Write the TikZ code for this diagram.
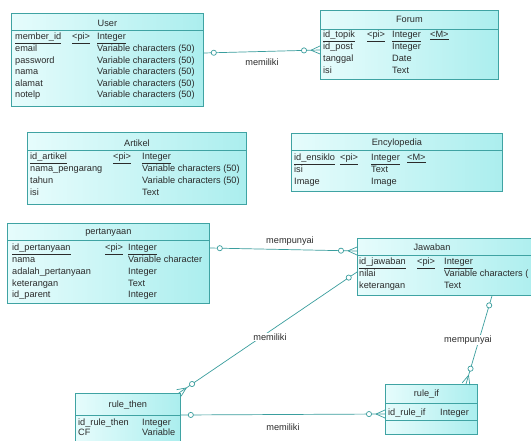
\documentclass[tikz,border=0pt]{standalone}
\usepackage{fontspec}
\setmainfont{Liberation Sans}
\usetikzlibrary{calc}
\definecolor{ErdEdge}{HTML}{3FA3A3}
\definecolor{ErdLight}{HTML}{E6FCFC}
\definecolor{ErdDeep}{HTML}{ABEEEE}
\definecolor{ErdInk}{HTML}{2B2B2B}
\definecolor{ErdLink}{HTML}{3A9E9E}
\tikzset{
  every node/.style={font=\fontsize{9.2}{10}\selectfont, text=ErdInk},
  erdbox/.style={draw=ErdEdge, line width=0.8pt, left color=ErdLight, right color=ErdDeep, anchor=north west, inner sep=0pt},
  erdrule/.style={draw=ErdEdge, line width=0.7pt},
  field/.style={anchor=base west, inner sep=0pt},
  link/.style={draw=ErdLink, line width=0.7pt},
  rellabel/.style={fill=white, inner sep=1pt},
}
% one end (#1) and many end (#2) of a relation
\newcommand{\erlink}[2]{%
  \draw[link] (#1) -- (#2);
  \draw[link, fill=white] ($(#1)!10pt!(#2)$) circle (2.6pt);
  \draw[link, fill=white] ($(#2)!16pt!(#1)$) circle (2.6pt);
  \draw[link] ($(#2)!9pt!(#1)$) -- ($(#2)!4pt!90:(#1)$)
              ($(#2)!9pt!(#1)$) -- ($(#2)!4pt!-90:(#1)$);
}

\begin{document}
\begin{tikzpicture}[x=1pt,y=-1pt]
  \fill[white] (0,0) rectangle (531,441);
  \useasboundingbox (0,0) rectangle (531,441);

  % User
  \node[erdbox, minimum width=192pt, minimum height=93pt] (user) at (11,13) {};
  \node (user-t) at ($(user.north)+(0,10)$) {User};
  \draw[erdrule] ($(user.north west)+(0,17)$) -- ($(user.north east)+(0,17)$);
  \node[field] (user-k) at (15,40) {\underline{member\_id}};
  \node[field] (user-kp) at (72,40) {\underline{<pi>}};
  \node[field] (user-kt) at (97,40) {\underline{Integer}};
  \foreach \f/\t [count=\i] in {email/Variable characters (50), password/Variable characters (50),
      nama/Variable characters (50), alamat/Variable characters (50), notelp/Variable characters (50)}{
    \node[field] (user-f\i) at (15,{40+11.6*\i}) {\f};
    \node[field] (user-y\i) at (97,{40+11.6*\i}) {\t};
  }

  % Forum
  \node[erdbox, minimum width=178pt, minimum height=69pt] (forum) at (320,10) {};
  \node (forum-t) at ($(forum.north)+(0,9)$) {Forum};
  \draw[erdrule] ($(forum.north west)+(0,19)$) -- ($(forum.north east)+(0,19)$);
  \node[field] (forum-k) at (323,38) {\underline{id\_topik}};
  \node[field] (forum-kp) at (367,38) {\underline{<pi>}};
  \node[field] (forum-kt) at (392,38) {\underline{Integer}};
  \node[field] (forum-km) at (430,38) {\underline{<M>}};
  \foreach \f/\t [count=\i] in {id\_post/Integer, tanggal/Date, isi/Text}{
    \node[field] (forum-f\i) at (323,{38+12*\i}) {\f};
    \node[field] (forum-y\i) at (392,{38+12*\i}) {\t};
  }

  % Artikel
  \node[erdbox, minimum width=219pt, minimum height=72pt] (artikel) at (27,132) {};
  \node (artikel-t) at ($(artikel.north)+(0,11)$) {Artikel};
  \draw[erdrule] ($(artikel.north west)+(0,18)$) -- ($(artikel.north east)+(0,18)$);
  \node[field] (artikel-k) at (30,160) {\underline{id\_artikel}};
  \node[field] (artikel-kp) at (113,160) {\underline{<pi>}};
  \node[field] (artikel-kt) at (142,160) {\underline{Integer}};
  \foreach \f/\t [count=\i] in {nama\_pengarang/Variable characters (50),
      tahun/Variable characters (50), isi/Text}{
    \node[field] (artikel-f\i) at (30,{160+12*\i}) {\f};
    \node[field] (artikel-y\i) at (142,{160+12*\i}) {\t};
  }

  % Encylopedia
  \node[erdbox, minimum width=211pt, minimum height=58pt] (ency) at (291,133) {};
  \node (ency-t) at ($(ency.north)+(0,10)$) {Encylopedia};
  \draw[erdrule] ($(ency.north west)+(0,17)$) -- ($(ency.north east)+(0,17)$);
  \node[field] (ency-k) at (294,161) {\underline{id\_ensiklo}};
  \node[field] (ency-kp) at (340,161) {\underline{<pi>}};
  \node[field] (ency-kt) at (371,161) {\underline{Integer}};
  \node[field] (ency-km) at (407,161) {\underline{<M>}};
  \foreach \f/\t [count=\i] in {isi/Text, Image/Image}{
    \node[field] (ency-f\i) at (294,{161+12*\i}) {\f};
    \node[field] (ency-y\i) at (371,{161+12*\i}) {\t};
  }

  % pertanyaan
  \node[erdbox, minimum width=202pt, minimum height=80pt] (tanya) at (7,223) {};
  \node (tanya-t) at ($(tanya.north)+(0,9)$) {pertanyaan};
  \draw[erdrule] ($(tanya.north west)+(0,17)$) -- ($(tanya.north east)+(0,17)$);
  \node[field] (tanya-k) at (12,251) {\underline{id\_pertanyaan}};
  \node[field] (tanya-kp) at (105,251) {\underline{<pi>}};
  \node[field] (tanya-kt) at (128,251) {\underline{Integer}};
  \foreach \f/\t [count=\i] in {nama/Variable character, adalah\_pertanyaan/Integer,
      keterangan/Text, id\_parent/Integer}{
    \node[field] (tanya-f\i) at (12,{251+11.7*\i}) {\f};
    \node[field] (tanya-y\i) at (128,{251+11.7*\i}) {\t};
  }

  % Jawaban
  \node[erdbox, minimum width=185pt, minimum height=57pt] (jawab) at (357,238) {};
  \node (jawab-t) at (432,247) {Jawaban};
  \draw[erdrule] ($(jawab.north west)+(0,17)$) -- ($(jawab.north east)+(0,17)$);
  \node[field] (jawab-k) at (359,265) {\underline{id\_jawaban}};
  \node[field] (jawab-kp) at (417,265) {\underline{<pi>}};
  \node[field] (jawab-kt) at (444,265) {\underline{Integer}};
  \foreach \f/\t [count=\i] in {nilai/Variable characters (, keterangan/Text}{
    \node[field] (jawab-f\i) at (359,{265+12*\i}) {\f};
    \node[field] (jawab-y\i) at (444,{265+12*\i}) {\t};
  }

  % rule_then
  \node[erdbox, minimum width=105pt, minimum height=60pt] (rthen) at (75,393) {};
  \node (rthen-t) at ($(rthen.north)+(0,12)$) {rule\_then};
  \draw[erdrule] ($(rthen.north west)+(0,22)$) -- ($(rthen.north east)+(0,22)$);
  \foreach \f/\t [count=\i from 0] in {id\_rule\_then/Integer, CF/Variable}{
    \node[field] (rthen-f\i) at (78,{425+10.5*\i}) {\f};
    \node[field] (rthen-y\i) at (142,{425+10.5*\i}) {\t};
  }

  % rule_if
  \node[erdbox, minimum width=92pt, minimum height=50pt] (rif) at (385,384) {};
  \node (rif-t) at ($(rif.north)+(-5,10)$) {rule\_if};
  \draw[erdrule] ($(rif.north west)+(0,19)$) -- ($(rif.north east)+(0,19)$);
  \draw[erdrule] ($(rif.north west)+(0,36)$) -- ($(rif.north east)+(0,36)$);
  \node[field] (rif-f) at (388,415) {id\_rule\_if};
  \node[field] (rif-y) at (440,415) {Integer};

  % relations
  \coordinate (uf-a) at ($(user.north east)+(0,40)$);
  \coordinate (uf-b) at ($(forum.north west)+(0,40)$);
  \coordinate (tj-a) at ($(tanya.north east)+(0,25)$);
  \coordinate (tj-b) at ($(jawab.north west)+(0,13)$);
  \coordinate (jt-a) at ($(jawab.north west)+(0,34)$);
  \coordinate (jt-b) at ($(rthen.north east)+(-2,0)$);
  \coordinate (ji-a) at ($(jawab.south west)+(135,0)$);
  \coordinate (ji-b) at ($(rif.north west)+(81,0)$);
  \coordinate (ti-a) at ($(rthen.north east)+(0,22)$);
  \coordinate (ti-b) at ($(rif.north west)+(0,30)$);
  \erlink{uf-a}{uf-b}
  \erlink{tj-a}{tj-b}
  \erlink{jt-a}{jt-b}
  \erlink{ji-a}{ji-b}
  \erlink{ti-a}{ti-b}

  \node[rellabel] (uf-l) at (262,62) {memiliki};
  \node[rellabel] (tj-l) at (290,241) {mempunyai};
  \node[rellabel] (jt-l) at (270,337) {memiliki};
  \node[rellabel] (ji-l) at (468,340) {mempunyai};
  \node[rellabel] (ti-l) at (283,427) {memiliki};
\end{tikzpicture}
\end{document}
